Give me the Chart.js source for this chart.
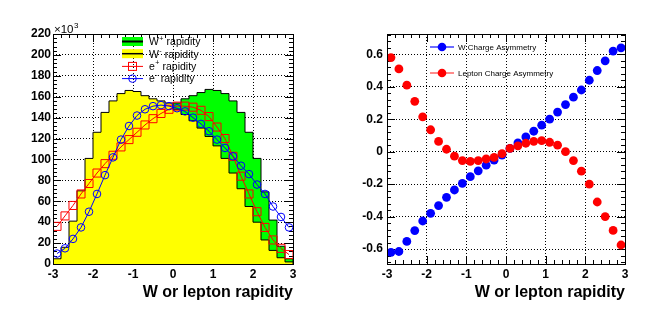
<!DOCTYPE html>
<html><head><meta charset="utf-8">
<script src="https://cdn.jsdelivr.net/npm/chart.js@4.4.0/dist/chart.umd.min.js"></script>
<style>
html,body{margin:0;padding:0;background:#fff;}
#wrap{position:relative;width:664px;height:315px;overflow:hidden;background:#fff;}
.box{position:absolute;top:0;width:332px;height:315px;}
canvas{display:block;}
</style></head><body>
<div id="wrap">
<div class="box" style="left:0"><canvas id="c1" width="332" height="315"></canvas></div>
<div class="box" style="left:332px"><canvas id="c2" width="332" height="315"></canvas></div>
</div>
<script>
// ---- data ----
const rapidityBins = [-2.9,-2.7,-2.5,-2.3,-2.1,-1.9,-1.7,-1.5,-1.3,-1.1,-0.9,-0.7,-0.5,-0.3,-0.1,
                      0.1,0.3,0.5,0.7,0.9,1.1,1.3,1.5,1.7,1.9,2.1,2.3,2.5,2.7,2.9];
const wPlusRapidity  = [2,6,13,23,40,55,72,87,101,113,122,130,137,143,148,154,158,161,164,167,166,163,156,145,126,101,69,42,17,5];
const wMinusRapidity = [5,16,41,70,101,126,145,156,163,166,165,161,158,156,154,148,143,137,130,122,113,101,87,72,55,40,23,13,6,2];
const ePlusRapidity  = [36,46,56,67,77,87,96,104,112,119,126,133,139,144,148,151,151,150,147,141,131,120,103,84,67,50,35,23,15,9];
const eMinusRapidity = [10,15,24,35,50,67,85,102,119,132,142,148,151,152,151,149,146,140,134,127,119,111,103,94,86,76,67,55,45,35];
const wChargeAsymmetry = [-0.62,-0.615,-0.553,-0.486,-0.427,-0.38,-0.332,-0.281,-0.236,-0.195,-0.154,-0.118,-0.083,-0.052,-0.021,
                          0.02,0.054,0.091,0.126,0.163,0.2,0.244,0.29,0.336,0.38,0.44,0.5,0.56,0.62,0.64];
const leptonChargeAsymmetry = [0.58,0.51,0.41,0.31,0.215,0.135,0.063,0.015,-0.028,-0.055,-0.06,-0.055,-0.045,-0.035,-0.012,
                               0.02,0.036,0.052,0.064,0.068,0.058,0.04,0.0,-0.055,-0.12,-0.2,-0.31,-0.4,-0.485,-0.575];
const xTickValues = [-3,-2,-1,0,1,2,3];
const leftYTickValues = [0,20,40,60,80,100,120,140,160,180,200,220];
const rightYTickValues = [-0.6,-0.4,-0.2,0,0.2,0.4,0.6];
const xTitle = 'W or lepton rapidity';

const FONT = '"Liberation Sans", Arial, Helvetica, sans-serif';
Chart.defaults.font.family = FONT;
Chart.defaults.color = '#000';

function histPoints(vals){
  const pts = [{x:-3,y:0},{x:-3,y:vals[0]}];
  rapidityBins.forEach((c,i)=>pts.push({x:c,y:vals[i]}));
  pts.push({x:3,y:vals[vals.length-1]},{x:3,y:0});
  return pts;
}
function pts(vals){ return rapidityBins.map((c,i)=>({x:c,y:vals[i]})); }

const frameTicks = {
  id:'frameTicks',
  beforeDatasetsDraw(chart, args, o){
    const {ctx, chartArea:a, scales:{x,y}} = chart;
    ctx.save(); ctx.strokeStyle='#000'; ctx.lineWidth=1; ctx.setLineDash([]);
    ctx.beginPath();
    let n0 = Math.ceil(x.min/o.xMinor-1e-6), n1 = Math.floor(x.max/o.xMinor+1e-6);
    for(let k=n0;k<=n1;k++){
      const px = Math.round(x.getPixelForValue(k*o.xMinor))+0.5;
      const L = (k % o.xPer === 0) ? 8 : 4;
      ctx.moveTo(px,a.bottom); ctx.lineTo(px,a.bottom-L);
      ctx.moveTo(px,a.top); ctx.lineTo(px,a.top+L);
    }
    n0 = Math.ceil(y.min/o.yMinor-1e-6); n1 = Math.floor(y.max/o.yMinor+1e-6);
    for(let k=n0;k<=n1;k++){
      const py = Math.round(y.getPixelForValue(k*o.yMinor))+0.5;
      const L = (k % o.yPer === 0) ? 8 : 4;
      ctx.moveTo(a.left,py); ctx.lineTo(a.left+L,py);
      ctx.moveTo(a.right,py); ctx.lineTo(a.right-L,py);
    }
    ctx.stroke(); ctx.restore();
  },
  afterDatasetsDraw(chart){
    const {ctx, chartArea:a} = chart;
    ctx.save(); ctx.strokeStyle='#000'; ctx.lineWidth=1; ctx.setLineDash([]);
    ctx.strokeRect(Math.round(a.left)+0.5, Math.round(a.top)+0.5, Math.round(a.right-a.left), Math.round(a.bottom-a.top));
    ctx.restore();
  }
};

function supText(ctx, x, y, base, sup, rest, size){
  ctx.font = size+'px '+FONT; ctx.fillText(base,x,y);
  let w = ctx.measureText(base).width;
  ctx.font = (size*0.68)+'px '+FONT; ctx.fillText(sup,x+w+0.3,y-size*0.42);
  w += ctx.measureText(sup).width+0.6;
  ctx.font = size+'px '+FONT; ctx.fillText(rest,x+w,y);
}

const leftDecor = {
  id:'leftDecor',
  afterDraw(chart){
    const ctx = chart.ctx;
    ctx.save(); ctx.fillStyle='#000'; ctx.textBaseline='alphabetic'; ctx.textAlign='left';
    // x10^3
    ctx.font = '11.5px '+FONT; ctx.fillText('\u00d710',54,32.5);
    const w = ctx.measureText('\u00d710').width;
    ctx.font = '8px '+FONT; ctx.fillText('3',54+w+0.5,27.5);
    // legend
    const lx0=122, lx1=143, tx=149, fs=10.5;
    const rows=[41.5,53.7,65.9,78.1];
    ctx.fillStyle='#00ff00'; ctx.fillRect(lx0,rows[0]-4.5,lx1-lx0,9);
    ctx.fillStyle='#ffff00'; ctx.fillRect(lx0,rows[1]-4.5,lx1-lx0,9);
    ctx.strokeStyle='#000'; ctx.lineWidth=2;
    ctx.beginPath(); ctx.moveTo(lx0,rows[0]); ctx.lineTo(lx1,rows[0]); ctx.stroke();
    ctx.lineWidth=1.5;
    ctx.beginPath(); ctx.moveTo(lx0,rows[1]); ctx.lineTo(lx1,rows[1]); ctx.stroke();
    ctx.lineWidth=1;
    ctx.strokeStyle='#ff0000';
    ctx.beginPath(); ctx.moveTo(lx0,rows[2]+0.5); ctx.lineTo(lx1,rows[2]+0.5); ctx.stroke();
    ctx.strokeRect(128.5,rows[2]-3.5,8,8);
    ctx.strokeStyle='#0000ff';
    ctx.beginPath(); ctx.moveTo(lx0,rows[3]+0.5); ctx.lineTo(lx1,rows[3]+0.5); ctx.stroke();
    ctx.beginPath(); ctx.arc(132.5,rows[3]+0.5,3.8,0,Math.PI*2); ctx.stroke();
    ctx.fillStyle='#000';
    supText(ctx,tx,rows[0]+3.8,'W','+',' rapidity',fs);
    supText(ctx,tx,rows[1]+3.8,'W','-',' rapidity',fs);
    supText(ctx,tx,rows[2]+3.8,'e','+',' rapidity',fs);
    supText(ctx,tx,rows[3]+3.8,'e','-',' rapidity',fs);
    ctx.restore();
  }
};

const rightDecor = {
  id:'rightDecor',
  afterDraw(chart){
    const ctx = chart.ctx;
    ctx.save(); ctx.textBaseline='alphabetic'; ctx.textAlign='left';
    const lx0=98, lx1=122, mx=110, tx=126;
    const r1=47, r2=73;
    ctx.lineWidth=2;
    ctx.strokeStyle='rgba(60,60,255,0.75)';
    ctx.beginPath(); ctx.moveTo(lx0,r1); ctx.lineTo(lx1,r1); ctx.stroke();
    ctx.strokeStyle='rgba(255,90,90,0.7)';
    ctx.beginPath(); ctx.moveTo(lx0,r2); ctx.lineTo(lx1,r2); ctx.stroke();
    ctx.fillStyle='#0000ff'; ctx.beginPath(); ctx.arc(mx,r1,4.3,0,Math.PI*2); ctx.fill();
    ctx.fillStyle='#ff0000'; ctx.beginPath(); ctx.arc(mx,r2,4.3,0,Math.PI*2); ctx.fill();
    ctx.fillStyle='#000'; ctx.font='8px '+FONT;
    ctx.fillText('W Charge Asymmetry',tx,r1+3);
    ctx.fillText('Lepton Charge Asymmetry',tx,r2+3);
    ctx.restore();
  }
};

function xScale(){
  return {
    type:'linear', min:-3, max:3,
    afterBuildTicks: s=>{ s.ticks = xTickValues.map(v=>({value:v})); },
    afterFit: s=>{ s.height = 51; },
    ticks:{ font:{size:12, weight:'bold'}, color:'#000', padding:3, maxRotation:0, autoSkip:false,
            callback:v=>String(v) },
    grid:{ color:'#000', lineWidth:1, drawTicks:false },
    border:{ display:false, dash:[1,2] },
    title:{ display:true, text:xTitle, align:'end', color:'#000',
            font:{size:16, weight:'bold'}, padding:{top:0,bottom:12.5} }
  };
}

new Chart(document.getElementById('c1'), {
  type:'line',
  data:{ datasets:[
    { label:'e- rapidity', data:pts(eMinusRapidity), order:0, borderColor:'#0000ff', borderWidth:1,
      pointStyle:'circle', pointRadius:3.8, pointBorderColor:'#0000ff', pointBackgroundColor:'rgba(0,0,0,0)', pointBorderWidth:1, fill:false },
    { label:'e+ rapidity', data:pts(ePlusRapidity), order:1, borderColor:'#ff0000', borderWidth:1,
      pointStyle:'rect', pointRadius:5.7, pointBorderColor:'#ff0000', pointBackgroundColor:'rgba(0,0,0,0)', pointBorderWidth:1, fill:false },
    { label:'W- rapidity', data:histPoints(wMinusRapidity), order:2, stepped:'middle', borderColor:'#000', borderWidth:1,
      backgroundColor:'#ffff00', fill:'origin', pointRadius:0 },
    { label:'W+ rapidity', data:histPoints(wPlusRapidity), order:3, stepped:'middle', borderColor:'#000', borderWidth:1,
      backgroundColor:'#00ff00', fill:'origin', pointRadius:0 }
  ]},
  options:{
    responsive:false, animation:false, devicePixelRatio:1, events:[],
    layout:{ padding:{left:0, right:39, top:34, bottom:0} },
    plugins:{ legend:{display:false}, tooltip:{enabled:false}, title:{display:false},
              frameTicks:{ xMinor:0.2, xPer:5, yMinor:4, yPer:5 } },
    scales:{
      x: xScale(),
      y:{ type:'linear', min:0, max:220,
          afterBuildTicks: s=>{ s.ticks = leftYTickValues.map(v=>({value:v})); },
          afterFit: s=>{ s.width = 53; },
          ticks:{ font:{size:12, weight:'bold'}, color:'#000', padding:2, callback:v=>String(v) },
          grid:{ color:'#000', lineWidth:1, drawTicks:false },
          border:{ display:false, dash:[1,2] } }
    }
  },
  plugins:[frameTicks, leftDecor]
});

new Chart(document.getElementById('c2'), {
  type:'line',
  data:{ datasets:[
    { label:'Lepton Charge Asymmetry', data:pts(leptonChargeAsymmetry), order:0, showLine:false,
      pointRadius:4.4, pointBackgroundColor:'#ff0000', pointBorderWidth:0, borderColor:'#ff0000' },
    { label:'W Charge Asymmetry', data:pts(wChargeAsymmetry), order:1, showLine:false,
      pointRadius:4.4, pointBackgroundColor:'#0000ff', pointBorderWidth:0, borderColor:'#0000ff' }
  ]},
  options:{
    responsive:false, animation:false, devicePixelRatio:1, events:[],
    layout:{ padding:{left:0, right:39, top:34, bottom:0} },
    plugins:{ legend:{display:false}, tooltip:{enabled:false}, title:{display:false},
              frameTicks:{ xMinor:0.2, xPer:5, yMinor:0.04, yPer:5 } },
    scales:{
      x: xScale(),
      y:{ type:'linear', min:-0.692, max:0.725,
          afterBuildTicks: s=>{ s.ticks = rightYTickValues.map(v=>({value:v})); },
          afterFit: s=>{ s.width = 55; },
          ticks:{ font:{size:12, weight:'bold'}, color:'#000', padding:4,
                  callback:v=> (Math.abs(v)<1e-9 ? '0' : v.toFixed(1)) },
          grid:{ color:'#000', lineWidth:1, drawTicks:false },
          border:{ display:false, dash:[1,2] } }
    }
  },
  plugins:[frameTicks, rightDecor]
});
</script>
</body></html>
